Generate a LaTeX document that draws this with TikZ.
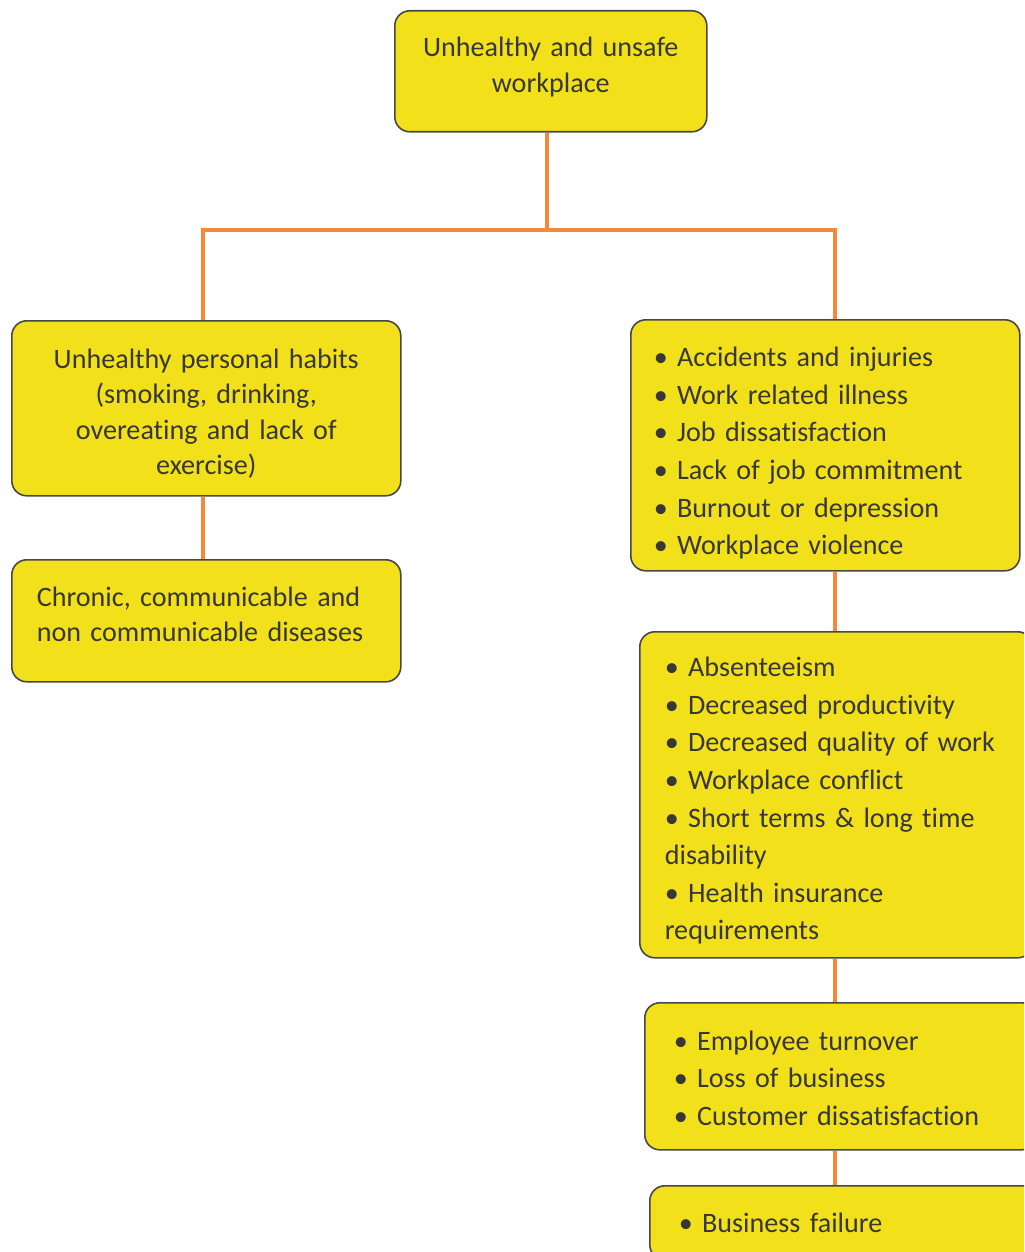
\documentclass[tikz,border=0pt]{standalone}
\usepackage{fontspec}
\setmainfont{Carlito}[Ligatures={NoCommon}]
\usetikzlibrary{positioning}
\definecolor{boxfill}{RGB}{242,225,26}
\definecolor{boxline}{RGB}{70,70,70}
\definecolor{linkorange}{RGB}{244,137,58}
\definecolor{textgrey}{RGB}{55,55,55}
\tikzstyle{card} = [rectangle, draw=boxline, fill=boxfill, rounded corners=1.5mm,
                    line width=0.45pt, text=textgrey, anchor=north west,
                    inner xsep=2.5mm, inner ysep=0pt]
\tikzstyle{link} = [draw=linkorange, line width=1.4pt]

\begin{document}
\begin{tikzpicture}[
  x=0.1mm, y=-0.1mm,
  font=\fontsize{8}{10.7}\selectfont,
  tight/.style={font=\fontsize{8}{10.1}\selectfont},
  lift/.style={execute at end node={\endgraf\vspace*{#1}}}
]
\useasboundingbox (0,0) rectangle (1024,1252);
\clip (0,0) rectangle (1024,1252);
\node[card, tight, lift=0.9mm, align=center, text width=26.2mm, minimum height=12.1mm] (workplace) at (394,10)
  {Unhealthy and unsafe\\workplace};
\node[card, tight, lift=-1.1mm, align=center, text width=33.9mm, minimum height=17.5mm] (habits) at (11,320)
  {Unhealthy personal habits\\(smoking, drinking,\\overeating and lack of\\exercise)};
\node[card, tight, lift=1.3mm, align=left, text width=33.9mm, minimum height=12.2mm] (diseases) at (11,559)
  {Chronic, communicable and\\non communicable diseases};
\node[card, lift=-1.6mm, align=left, inner xsep=2.3mm, text width=34.3mm, minimum height=25.1mm] (effects) at (630,319)
  {• Accidents and injuries\\• Work related illness\\• Job dissatisfaction\\
   • Lack of job commitment\\• Burnout or depression\\• Workplace violence};
\node[card, lift=-1.2mm, align=left, text width=34.3mm, minimum height=32.6mm] (costs) at (639,631)
  {• Absenteeism\\• Decreased productivity\\• Decreased quality of work\\
   • Workplace conflict\\• Short terms \& long time\\disability\\
   • Health insurance\\requirements};
\node[card, lift=-0.4mm, align=left, inner xsep=2.9mm, text width=33.4mm, minimum height=14.7mm] (business) at (644,1002)
  {• Employee turnover\\• Loss of business\\• Customer dissatisfaction};
\node[card, align=left, inner xsep=2.9mm, text width=33.4mm, minimum height=7.4mm] (failure) at (649,1185)
  {• Business failure};
% tree links
\coordinate (split) at (547,230);
\coordinate (lj) at (203,230);
\coordinate (rj) at (835,230);
\draw[link] (workplace.south -| split) -- (split);
\draw[link] (habits.north -| lj) |- (rj) -- (effects.north -| rj);
\draw[link] (habits.south -| lj) -- (diseases.north -| lj);
\draw[link] (effects.south -| rj) -- (costs.north -| rj);
\draw[link] (costs.south -| rj) -- (business.north -| rj);
\draw[link] (business.south -| rj) -- (failure.north -| rj);
\end{tikzpicture}
\end{document}
